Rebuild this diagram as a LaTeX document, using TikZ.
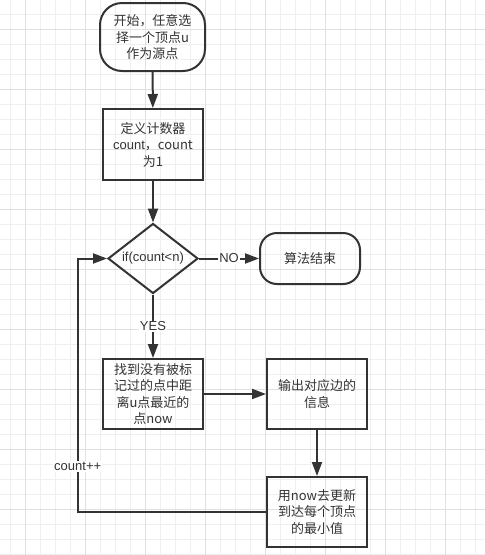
\documentclass[tikz,border=0pt]{standalone}
\usepackage{fontspec}
\setmainfont{Liberation Sans}
\newfontfamily\cjk{Noto Sans CJK SC}
\usetikzlibrary{shapes.geometric,arrows.meta}
\definecolor{ink}{HTML}{333333}
\definecolor{gridminor}{HTML}{EFEFEF}
\definecolor{gridmajor}{HTML}{E0E0E0}
\tikzset{
  txt/.style={text=ink, align=center, font=\fontsize{13}{16.5}\selectfont},
  box/.style={txt, draw=ink, line width=2pt, minimum width=100pt, minimum height=70pt, inner sep=0pt},
  term/.style={txt, draw=ink, line width=2pt, inner sep=0pt},
  dec/.style={txt, draw=ink, line width=2pt, diamond, minimum width=90pt, minimum height=70pt, inner sep=0pt, aspect=1.3},
  arr/.style={draw=ink, line width=2pt, -{Triangle[length=14pt,width=10pt]}},
  lbl/.style={fill=white, inner sep=1pt, text=ink, font=\fontsize{13}{15}\selectfont},
  gminor/.style={draw=gridminor, line width=1pt},
  gmajor/.style={draw=gridmajor, line width=1pt}
}
\begin{document}
\begin{tikzpicture}[x=1pt,y=-1pt]
\useasboundingbox (0,0) rectangle (485,555);
\fill[white] (0,0) rectangle (485,555);
% grid
\foreach \x in {10,25,...,485} \draw[gminor] (\x,0) -- (\x,555);
\foreach \y in {14.3,29.3,...,555} \draw[gminor] (0,\y) -- (485,\y);
\foreach \x in {25,85,...,485} \draw[gmajor] (\x,0) -- (\x,555);
\foreach \y in {29.3,89.3,...,555} \draw[gmajor] (0,\y) -- (485,\y);
% nodes
\node[term, minimum width=105pt, minimum height=68pt, rounded corners=22pt] (start) at (152.5,37)
  {\cjk{开始，任意选}\\\cjk{择一个顶点}u\\\cjk{作为源点}};
\node[box, minimum height=71pt] (def) at (153,144.5)
  {\cjk{定义计数器}\\count\cjk{，}count\\\cjk{为}1};
\node[dec] (cond) at (153,258.5) {if(count<n)};
\node[term, minimum width=100pt, minimum height=51pt, rounded corners=17pt] (finish) at (310,258.5)
  {\cjk{算法结束}};
\node[box] (find) at (153,394)
  {\cjk{找到没有被标}\\\cjk{记过的点中距}\\\cjk{离}u\cjk{点最近的}\\\cjk{点}now};
\node[box] (out) at (317,394)
  {\cjk{输出对应边的}\\\cjk{信息}};
\node[box] (upd) at (317,512)
  {\cjk{用}now\cjk{去更新}\\\cjk{到达每个顶点}\\\cjk{的最小值}};
\coordinate (lb) at (77.7,512);
\coordinate (lt) at (77.7,258.5);
% connectors
\draw[arr] (start) -- (def);
\draw[arr] (def) -- (cond);
\draw[arr] (cond) -- node[lbl]{NO} (finish);
\draw[arr] (cond) -- node[lbl]{YES} (find);
\draw[arr] (find) -- (out);
\draw[arr] (out) -- (upd);
\draw[arr] (upd.west) -- (lb) -- node[lbl, pos=0.18]{count++} (lt) -- (cond.west);
\end{tikzpicture}
\end{document}
